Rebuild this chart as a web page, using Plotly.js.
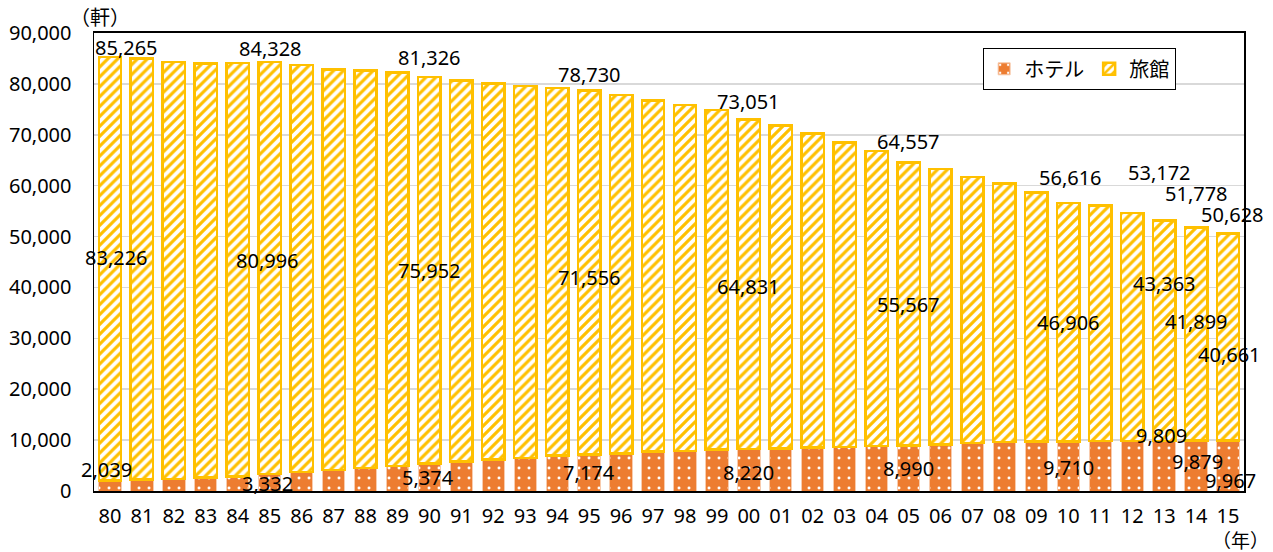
<!DOCTYPE html>
<html>
<head>
<meta charset="utf-8">
<script src="https://cdn.plot.ly/plotly-3.0.1.min.js"></script>
<style>html,body{margin:0;padding:0;background:#fff;}#chart{width:1273px;height:552px;}</style>
</head>
<body>
<div id="chart"></div>
<script>
// Year labels (category axis)
const years = ["80","81","82","83","84","85","86","87","88","89",
               "90","91","92","93","94","95","96","97","98","99",
               "00","01","02","03","04","05","06","07","08","09",
               "10","11","12","13","14","15"];
// ホテル (hotels)
const hotel = [2039,2220,2360,2610,2890,3332,3730,4130,4520,4910,
               5374,5800,6150,6480,6940,7174,7400,7720,7900,8120,
               8220,8363,8518,8686,8811,8990,9180,9442,9603,9688,
               9710,9863,9796,9809,9879,9967];
// 旅館 (ryokan)
const ryokan = [83226,82750,81940,81430,81210,80996,79970,78670,78080,77290,
                75952,74900,73950,73060,72270,71556,70370,68990,67910,66710,
                64831,63480,61750,59810,57990,55567,54070,52300,50820,48960,
                46906,46240,44800,43363,41899,40661];
// Years that carry value labels
const labeledYears = ["80","85","90","95","00","05","10","13","14","15"];

// label offsets in px (style only): [xshift, yshift]
const totalOff  = [[17,10],[1,13],[0,20],[0,16],[0,18],[0,21],[2,25],[-5,48],[0,34],[4,19]];
const ryokanOff = [[7,11],[-2,7],[0,0],[0,-5],[0,-2],[0,-1],[0,0],[0,47],[0,13],[1,-18]];
const hotelOff  = [[-3,11],[-2,-9],[-1,-14],[0,-18],[0,-23],[0,-23],[0,-26],[-3,6],[1,-21],[2,-40]];

const fmt = v => v.toLocaleString('en-US');
const FONT = "Noto Sans, Noto Sans CJK JP, sans-serif";
const FS = 20;
const annotations = [];
labeledYears.forEach((yr, k) => {
  const i = years.indexOf(yr);
  const h = hotel[i], r = ryokan[i], t = h + r;
  annotations.push({x: i, y: t, text: fmt(t), showarrow: false, xshift: totalOff[k][0], yshift: totalOff[k][1], yanchor: 'middle', font: {size: FS, color: '#000', family: FONT}});
  annotations.push({x: i, y: h + r / 2, text: fmt(r), showarrow: false, xshift: ryokanOff[k][0], yshift: ryokanOff[k][1], yanchor: 'middle', font: {size: FS, color: '#000', family: FONT}});
  annotations.push({x: i, y: h, text: fmt(h), showarrow: false, xshift: hotelOff[k][0], yshift: hotelOff[k][1], yanchor: 'middle', font: {size: FS, color: '#000', family: FONT}});
});
annotations.push({xref: 'paper', yref: 'paper', x: 0.005, y: 1.0, xanchor: 'center', yanchor: 'bottom', yshift: 0, text: '（軒）', showarrow: false, font: {size: FS, color: '#000', family: "Noto Sans CJK JP"}});
annotations.push({xref: 'paper', yref: 'paper', x: 1.0, y: 0, xanchor: 'right', yanchor: 'top', xshift: 27, yshift: -33, text: '（年）', showarrow: false, font: {size: 19, color: '#000', family: "Noto Sans CJK JP"}});

const traces = [
  {type: 'bar', name: 'ホテル', x: years, y: hotel,
   marker: {color: '#ED7D31', line: {color: '#F8CBAD', width: 1},
            pattern: {shape: '.', bgcolor: '#ED7D31', fgcolor: '#FFFFFF', size: 10, solidity: 0.07}},
   hoverinfo: 'skip'},
  {type: 'bar', name: '旅館', x: years, y: ryokan,
   marker: {color: '#FFFFFF', line: {color: '#FFC000', width: 2.5},
            pattern: {shape: '/', bgcolor: '#FFFFFF', fgcolor: '#FFC000', size: 7, solidity: 0.45}},
   hoverinfo: 'skip'}
];

const layout = {
  width: 1273, height: 552,
  margin: {l: 94, r: 29, t: 33, b: 61},
  paper_bgcolor: '#fff', plot_bgcolor: '#fff',
  barmode: 'stack', bargap: 0.3,
  font: {family: FONT, size: FS, color: '#000'},
  xaxis: {type: 'category', range: [-0.5, years.length - 0.5], autorange: false,
          categoryorder: 'array', categoryarray: years,
          showline: true, linecolor: '#000', linewidth: 2, mirror: true,
          ticks: '', ticklabelstandoff: 6, tickfont: {size: FS, color: '#000', family: FONT}, showgrid: false},
  yaxis: {range: [0, 90000], dtick: 10000, tickformat: ',d', showline: true, linecolor: '#000', linewidth: 1.5, mirror: true,
          gridcolor: '#D9D9D9', gridwidth: 1.5, ticks: '', ticklabelstandoff: 17, zeroline: false,
          tickfont: {size: FS, color: '#000', family: FONT}},
  legend: {orientation: 'h', x: 0.773, y: 0.967, xanchor: 'left', yanchor: 'top',
           bordercolor: '#000', borderwidth: 1.2, bgcolor: '#fff',
           font: {size: FS, family: "Noto Sans CJK JP", color: '#000'}, traceorder: 'normal',
           itemwidth: 30},
  showlegend: true,
  annotations: annotations
};

Plotly.newPlot('chart', traces, layout, {displayModeBar: false, staticPlot: true});
</script>
</body>
</html>
